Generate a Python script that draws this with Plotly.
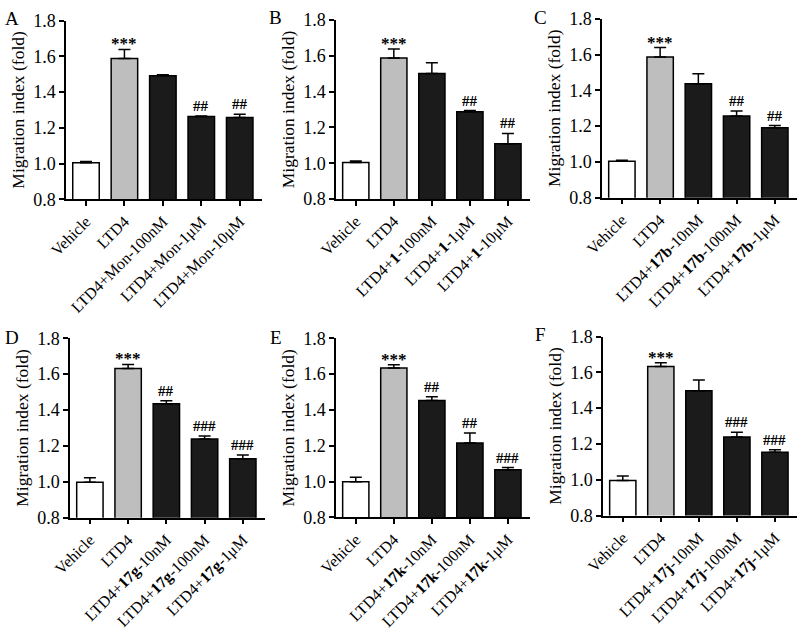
import plotly.graph_objects as go

# ---------------- data ----------------
panel_letters = ["A", "B", "C", "D", "E", "F"]

cats_A = ["Vehicle", "LTD4", "LTD4+Mon-100nM", "LTD4+Mon-1μM", "LTD4+Mon-10μM"]
cats_B = ["Vehicle", "LTD4", "LTD4+<b>1</b>-100nM", "LTD4+<b>1</b>-1μM", "LTD4+<b>1</b>-10μM"]
cats_C = ["Vehicle", "LTD4", "LTD4+<b>17b</b>-10nM", "LTD4+<b>17b</b>-100nM", "LTD4+<b>17b</b>-1μM"]
cats_D = ["Vehicle", "LTD4", "LTD4+<b>17g</b>-10nM", "LTD4+<b>17g</b>-100nM", "LTD4+<b>17g</b>-1μM"]
cats_E = ["Vehicle", "LTD4", "LTD4+<b>17k</b>-10nM", "LTD4+<b>17k</b>-100nM", "LTD4+<b>17k</b>-1μM"]
cats_F = ["Vehicle", "LTD4", "LTD4+<b>17j</b>-10nM", "LTD4+<b>17j</b>-100nM", "LTD4+<b>17j</b>-1μM"]

vals_A = [1.005, 1.588, 1.491, 1.263, 1.257]
errs_A = [0.007, 0.050, 0.005, 0.003, 0.018]
sig_A = ["", "***", "", "##", "##"]

vals_B = [1.004, 1.588, 1.501, 1.288, 1.108]
errs_B = [0.008, 0.050, 0.060, 0.006, 0.058]
sig_B = ["", "***", "", "##", "##"]

vals_C = [1.004, 1.587, 1.437, 1.256, 1.191]
errs_C = [0.006, 0.052, 0.056, 0.028, 0.012]
sig_C = ["", "***", "", "##", "##"]

vals_D = [0.997, 1.632, 1.435, 1.239, 1.128]
errs_D = [0.026, 0.022, 0.017, 0.017, 0.022]
sig_D = ["", "***", "##", "###", "###"]

vals_E = [0.998, 1.634, 1.452, 1.215, 1.065]
errs_E = [0.026, 0.018, 0.021, 0.056, 0.013]
sig_E = ["", "***", "##", "##", "###"]

vals_F = [0.995, 1.632, 1.497, 1.239, 1.153]
errs_F = [0.026, 0.022, 0.060, 0.026, 0.015]
sig_F = ["", "***", "", "###", "###"]

y_ticks = [0.8, 1.0, 1.2, 1.4, 1.6, 1.8]
y_title = "Migration index (fold)"

# ---------------- layout geometry (pixels) ----------------
W, H = 800, 634
x_px = [(66, 262), (336, 530), (602, 797), (70, 265), (336, 530), (603, 797)]
y_px = [(20.5, 199.3), (20.0, 199.0), (18.8, 197.7), (338.3, 517.7), (338.3, 517.3), (336.5, 515.5)]
letter_px = [(3, 6), (267, 5), (532, 5), (3, 325), (268, 325), (533, 322)]

panels = [
    (cats_A, vals_A, errs_A, sig_A),
    (cats_B, vals_B, errs_B, sig_B),
    (cats_C, vals_C, errs_C, sig_C),
    (cats_D, vals_D, errs_D, sig_D),
    (cats_E, vals_E, errs_E, sig_E),
    (cats_F, vals_F, errs_F, sig_F),
]

bar_colors = ["#ffffff", "#bebebe", "#1b1b1b", "#1b1b1b", "#1b1b1b"]
FONT = "Liberation Serif"

fig = go.Figure()
annotations = []
layout_axes = {}

for i, (cats, vals, errs, sig) in enumerate(panels):
    n = "" if i == 0 else str(i + 1)
    xa, ya = "x" + n, "y" + n
    fig.add_trace(go.Bar(
        x=cats, y=vals,
        xaxis=xa, yaxis=ya,
        marker=dict(color=bar_colors, line=dict(color="#000000", width=1.5)),
        error_y=dict(type="data", array=errs, arrayminus=[0] * len(errs), symmetric=False,
                     color="#000000", thickness=1.5, width=6),
        width=0.69,
        showlegend=False,
        hoverinfo="skip",
    ))
    xl, xr = x_px[i]
    yt, yb = y_px[i]
    layout_axes["xaxis" + n] = dict(
        domain=[xl / W, xr / W], anchor=ya, automargin=False,
        type="category", range=[-0.52, 4.58],
        showline=True, linecolor="#000000", linewidth=1.5,
        ticks="outside", ticklen=5, tickwidth=1.5, tickcolor="#000000",
        tickangle=-45, tickfont=dict(family=FONT, size=16, color="#000000"),
        showgrid=False, zeroline=False, fixedrange=True,
    )
    layout_axes["yaxis" + n] = dict(
        domain=[1 - yb / H, 1 - yt / H], anchor=xa, automargin=False,
        range=[0.8, 1.8], tickvals=y_ticks, ticktext=["%.1f" % t for t in y_ticks],
        showline=True, linecolor="#000000", linewidth=1.5,
        ticks="outside", ticklen=5, tickwidth=1.5, tickcolor="#000000",
        tickfont=dict(family=FONT, size=18, color="#000000"),
        title=dict(text=y_title, font=dict(family=FONT, size=17.5, color="#000000"), standoff=4),
        showgrid=False, zeroline=False, fixedrange=True,
    )
    for c, v, e, s in zip(cats, vals, errs, sig):
        if s:
            annotations.append(dict(
                x=c, y=v + e, xref=xa, yref=ya, text="<b>" + s + "</b>", showarrow=False,
                yanchor="bottom", xanchor="center",
                yshift=-6 if s.startswith("*") else 0,
                font=dict(family=FONT, size=15 if s.startswith("#") else 17, color="#000000"),
            ))
    lx, ly = letter_px[i]
    annotations.append(dict(
        x=lx / W, y=1 - ly / H, xref="paper", yref="paper", text=panel_letters[i],
        showarrow=False, xanchor="left", yanchor="top",
        font=dict(family=FONT, size=19, color="#000000"),
    ))

fig.update_layout(
    width=W, height=H,
    margin=dict(l=0, r=0, t=0, b=0, autoexpand=False),
    paper_bgcolor="#ffffff", plot_bgcolor="#ffffff",
    bargap=0.31,
    annotations=annotations,
    **layout_axes,
)

fig.write_html(
    "out.html",
    config={"displayModeBar": False},
    post_script="document.body.style.margin='0';document.body.style.padding='0';"
                "document.body.style.overflow='hidden';",
)
